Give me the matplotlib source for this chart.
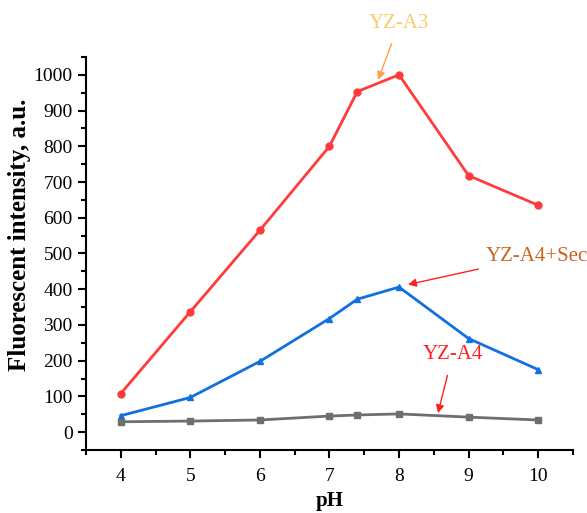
import matplotlib as mpl
import matplotlib.pyplot as plt
from matplotlib.ticker import MultipleLocator

mpl.rcParams['font.family'] = ['Liberation Serif', 'DejaVu Serif']
mpl.rcParams.update({'font.size': 14})

ph = [4, 5, 6, 7, 7.4, 8, 9, 10]
yz_a3 = [108, 337, 565, 800, 953, 1000, 718, 635]
yz_a4_sec = [46, 97, 198, 318, 372, 406, 262, 175]
yz_a4 = [29, 31, 34, 45, 48, 51, 42, 34]


def main():
    fig = plt.figure(figsize=(5.87, 5.13), dpi=100)
    ax = fig.add_axes([0.1465, 0.1228, 0.8295, 0.7662])

    ax.plot(ph, yz_a3, color='#FF3B3B', linewidth=2, marker='o', markersize=5)
    ax.plot(ph, yz_a4_sec, color='#1170E0', linewidth=2, marker='^', markersize=5)
    ax.plot(ph, yz_a4, color='#6E6E6E', linewidth=2, marker='s', markersize=5)

    ax.set_xlim(3.5, 10.5)
    ax.set_ylim(-50, 1050)
    ax.xaxis.set_minor_locator(MultipleLocator(0.5))
    ax.yaxis.set_minor_locator(MultipleLocator(50))
    ax.set_xticks([4, 5, 6, 7, 8, 9, 10])
    ax.set_yticks(range(0, 1001, 100))

    for s in ['top', 'right']:
        ax.spines[s].set_visible(False)
    for s in ['left', 'bottom']:
        ax.spines[s].set_linewidth(1.5)
    ax.tick_params(which='major', direction='out', length=6, width=1.5, labelsize=14)
    ax.tick_params(axis='x', which='major', pad=7)
    ax.tick_params(which='minor', direction='out', length=3.5, width=1.5)

    ax.set_xlabel('pH', fontweight='bold', fontsize=15, labelpad=4)
    ax.set_ylabel('Fluorescent intensity, a.u.', fontweight='bold', fontsize=18)
    ax.yaxis.set_label_coords(-0.112, 0.548)

    ax.annotate('YZ-A3', xy=(7.7, 986), xytext=(8.0, 1143),
                color='#FFC870', fontsize=15, ha='center', va='center',
                arrowprops=dict(arrowstyle='-|>', color='#FFA050', lw=1, mutation_scale=12,
                                shrinkA=6, shrinkB=0),
                annotation_clip=False)
    ax.annotate('YZ-A4+Sec', xy=(8.13, 413), xytext=(9.24, 492),
                color='#C8641E', fontsize=15, ha='left', va='center',
                arrowprops=dict(arrowstyle='-|>', color='#FF2020', lw=1, mutation_scale=12,
                                shrinkA=3, shrinkB=0),
                annotation_clip=False)
    ax.annotate('YZ-A4', xy=(8.56, 53), xytext=(8.77, 216),
                color='#FF2020', fontsize=15, ha='center', va='center',
                arrowprops=dict(arrowstyle='-|>', color='#FF2020', lw=1, mutation_scale=12,
                                shrinkA=6, shrinkB=0),
                annotation_clip=False)

    fig.savefig('out.png', dpi=100)


if __name__ == "__main__":
    main()
